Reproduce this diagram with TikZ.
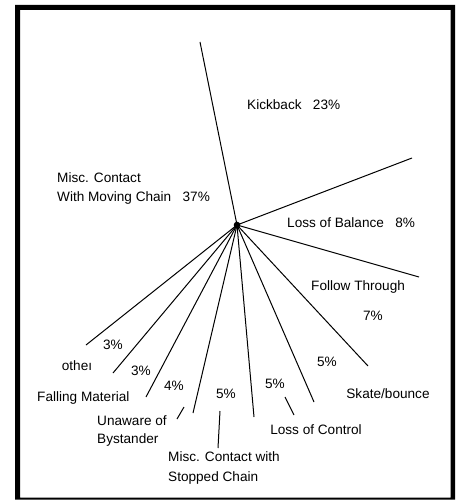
\documentclass[tikz,border=0pt]{standalone}
\usepackage{fontspec}
\setmainfont{Liberation Sans}
\begin{document}
\begin{tikzpicture}[x=1pt,y=-1pt,
  ray/.style={line width=1pt},
  lbl/.style={inner sep=0pt,text height=9.9pt,text depth=0pt,font=\fontsize{13.6}{15}\selectfont},
  frame/.style={fill=black,even odd rule}]
\useasboundingbox (0,0) rectangle (457,500);
\fill[frame] (15,5) rectangle (455,499.5) (20,10) rectangle (450.5,497.5);
\coordinate (c) at (237,225);
\coordinate (e1) at (200,42);
\coordinate (e2) at (412,158);
\coordinate (e3) at (419,277);
\coordinate (e4) at (368,366);
\coordinate (e5) at (314,402);
\coordinate (e6) at (254,417);
\coordinate (e7) at (193,413);
\coordinate (e8) at (146,397);
\coordinate (e9) at (113,373);
\coordinate (e10) at (86,345);
\foreach \i in {1,...,10} \draw[ray] (c) -- (e\i);
\fill (c) circle (3.3);
% leaders
\coordinate (ua) at (184,407); \coordinate (ub) at (177,419);
\coordinate (ma) at (220,411); \coordinate (mb) at (218,448);
\coordinate (la) at (285,397); \coordinate (lb) at (294,415);
\draw[ray] (ua) -- (ub);
\draw[ray] (ma) -- (mb);
\draw[ray] (la) -- (lb);
% labels
\node[lbl,anchor=west] (kick) at (247,105) {Kickback\ \ \ 23\%};
\node[lbl,anchor=west] (mm1) at (57,178) {Misc. Contact};
\node[lbl,anchor=west] (mm2) at (57,197) {With Moving Chain\ \ \ 37\%};
\node[lbl,anchor=west] (lob) at (287,223) {Loss of Balance\ \ \ 8\%};
\node[lbl,anchor=west] (ft) at (311,286) {Follow Through};
\node[lbl] (ftp) at (373,316) {7\%};
\node[lbl] (op) at (113,345) {3\%};
\node[lbl] (oth) at (77,366) {otheı};
\node[lbl] (fp) at (141,371) {3\%};
\node[lbl,anchor=west] (fm) at (37,397) {Falling Material};
\node[lbl] (up) at (174,386) {4\%};
\node[lbl,anchor=west] (ub1) at (97,421) {Unaware of};
\node[lbl,anchor=west] (ub2) at (97,439) {Bystander};
\node[lbl] (msp) at (226,394) {5\%};
\node[lbl,anchor=west] (ms1) at (168,457) {Misc. Contact with};
\node[lbl,anchor=west] (ms2) at (168,477) {Stopped Chain};
\node[lbl] (lcp) at (275,384) {5\%};
\node[lbl] (lc) at (316,430) {Loss of Control};
\node[lbl] (sbp) at (327,362) {5\%};
\node[lbl] (sb) at (388,394) {Skate/bounce};
\end{tikzpicture}
\end{document}
